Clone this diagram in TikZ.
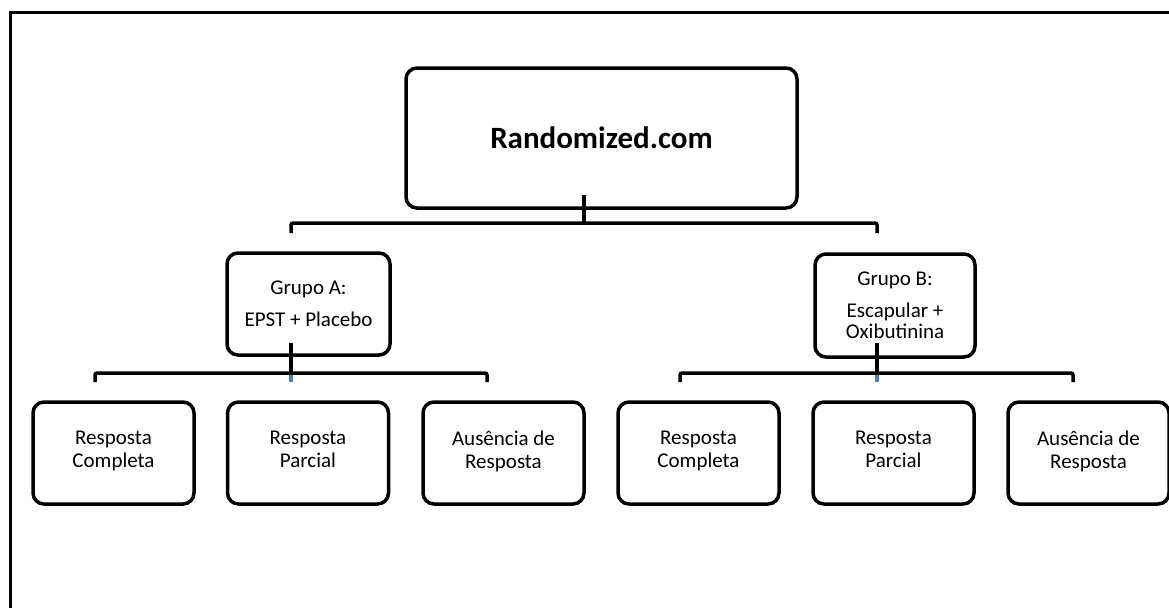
\documentclass[tikz,border=0pt]{standalone}
\usepackage{fontspec}
\setmainfont{Carlito}
\definecolor{stubblue}{HTML}{4F81BD}
\begin{document}
\begin{tikzpicture}[x=1pt,y=-1pt,
  box/.style={draw=black, line width=3.5pt, rounded corners=11pt, fill=white,
    inner sep=0pt, align=center, minimum width=161pt, minimum height=102pt,
    font=\fontsize{21}{23}\selectfont},
  leaf/.style={box, execute at end node=\rule[-7pt]{0pt}{0pt}},
  link/.style={line width=3.5pt, rounded corners=2pt},
  bluelink/.style={line width=3.5pt, draw=stubblue},
  frame/.style={line width=3pt}
]
\useasboundingbox (0,0) rectangle (1169,608);
% outer frame (only top and left visible)
\coordinate (fb) at (10,608);
\coordinate (fc) at (10,12);
\coordinate (fr) at (1169,12);
\draw[frame] (fb) -- (fc) -- (fr);

% nodes
\node[box, minimum width=391pt, minimum height=140pt,
  font=\fontsize{31}{36}\selectfont\bfseries] (root) at (601.5,138) {Randomized.com};
\node[box, minimum width=163pt] (ga) at (308.5,304) {Grupo A:\\[9pt]EPST + Placebo};
\node[box, minimum width=160pt, minimum height=103pt,
  font=\fontsize{21}{21}\selectfont] (gb) at (895,305.5) {Grupo B:\\[11pt]Escapular +\\Oxibutinina};

\node[leaf] (a1) at (113.5,453) {Resposta\\Completa};
\node[leaf] (a2) at (308,453) {Resposta\\Parcial};
\node[leaf] (a3) at (503.5,453) {Aus\smash{ê}ncia de\\Resposta};
\node[leaf] (b1) at (698.5,453) {Resposta\\Completa};
\node[leaf] (b2) at (893.5,453) {Resposta\\Parcial};
\node[leaf] (b3) at (1088.5,453) {Aus\smash{ê}ncia de\\Resposta};

% connector coordinates
\coordinate (rs) at (584,195);
\coordinate (rj) at (584,223);
\coordinate (tl) at (291,223);
\coordinate (tr) at (877,223);
\coordinate (ta) at (291,233);
\coordinate (tb) at (877,233);

\coordinate (gas) at (291,343);
\coordinate (gaj) at (291,373);
\coordinate (gae) at (291,382);
\coordinate (al) at (95,373);
\coordinate (ar) at (487,373);
\coordinate (ald) at (95,382);
\coordinate (ard) at (487,382);

\coordinate (gbs) at (877,343);
\coordinate (gbj) at (877,373);
\coordinate (gbe) at (877,382);
\coordinate (bl) at (680,373);
\coordinate (br) at (1073,373);
\coordinate (bld) at (680,382);
\coordinate (brd) at (1073,382);

% connectors
\draw[link] (rs) -- (rj);
\draw[link] (ta) -- (tl) -- (tr) -- (tb);

\draw[link] (gas) -- (gaj);
\draw[bluelink] (gaj) -- (gae);
\draw[link] (ald) -- (al) -- (ar) -- (ard);

\draw[link] (gbs) -- (gbj);
\draw[bluelink] (gbj) -- (gbe);
\draw[link] (bld) -- (bl) -- (br) -- (brd);
\end{tikzpicture}
\end{document}
